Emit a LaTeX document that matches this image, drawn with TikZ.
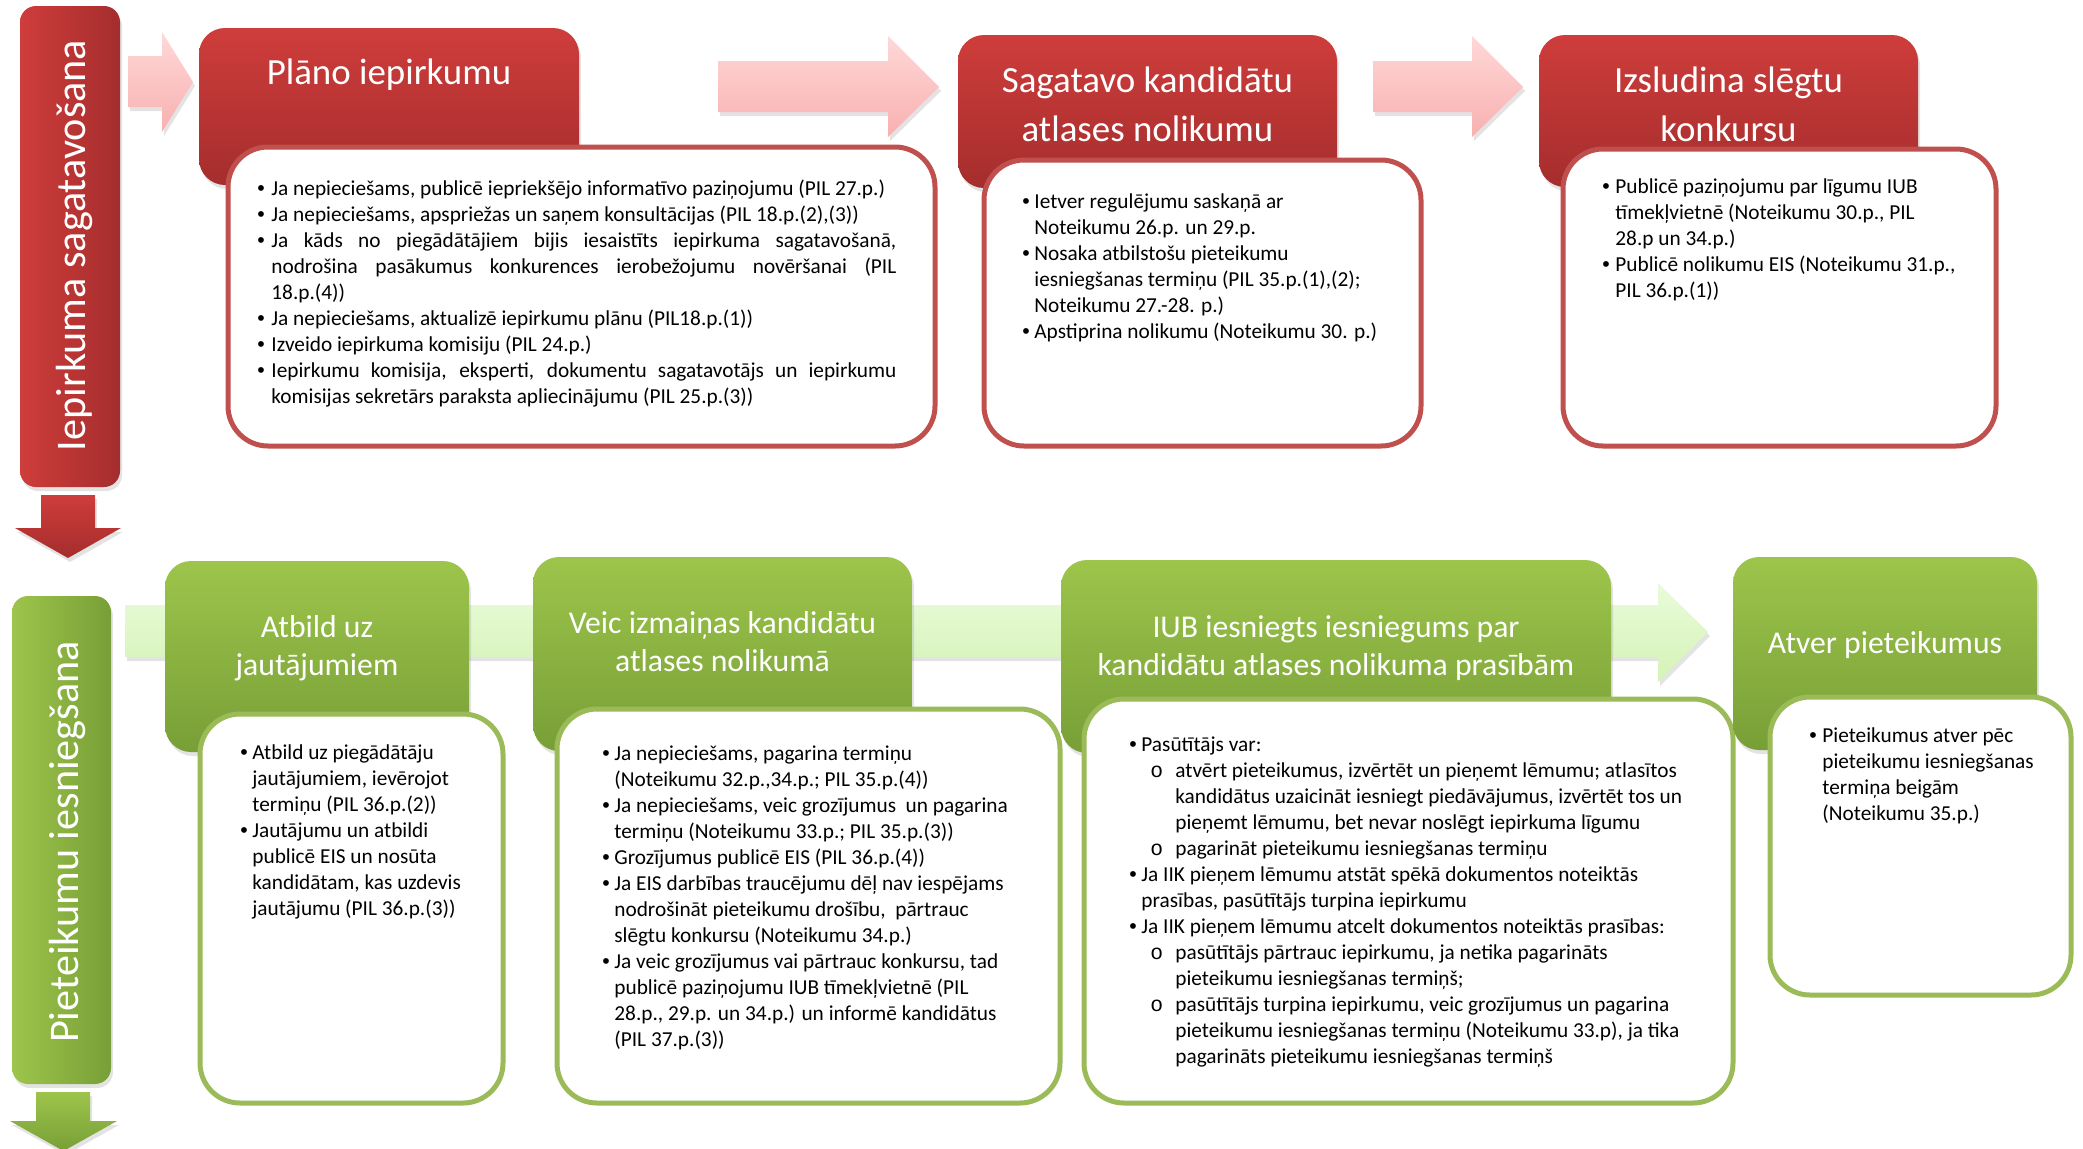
\documentclass[tikz,border=0pt]{standalone}
\usepackage{fontspec}
\setmainfont{Carlito}
\newfontfamily\bulfont{Liberation Sans}
\newfontfamily\subfont{Liberation Mono}
\usetikzlibrary{fit,shadows}
\definecolor{redA}{HTML}{CE3D3B}
\definecolor{redB}{HTML}{A52D2D}
\definecolor{redBorder}{HTML}{C0504D}
\definecolor{grnA}{HTML}{9DC54B}
\definecolor{grnB}{HTML}{789F37}
\definecolor{grnBorder}{HTML}{9BBB59}
\definecolor{pinkA}{HTML}{FFD8D8}
\definecolor{pinkB}{HTML}{F8B0B0}
\definecolor{lgA}{HTML}{E9FBDA}
\definecolor{lgB}{HTML}{D5F3B6}
\newcommand\bi[2]{\par\hangindent=#1\relax\hangafter=1\noindent\makebox[#1][l]{{\bulfont •}}#2}
\newcommand\si[3]{\par\hangindent=#2\relax\hangafter=1\noindent\hspace*{#1}\makebox[\dimexpr#2-#1\relax][l]{{\subfont o}}#3}
\newcommand\bodybox[2]{\parbox[t]{#1}{\setlength\parindent{0pt}\hyphenpenalty=10000 \exhyphenpenalty=10000 \tolerance=10000 \hbadness=10000 #2}}
\tikzset{
  shad/.style={drop shadow={opacity=0.22, shadow xshift=1pt, shadow yshift=-2pt}},
  redtitle/.style={rectangle, rounded corners=13pt, top color=redA, bottom color=redB, inner sep=0pt, shad},
  grntitle/.style={rectangle, rounded corners=13pt, top color=grnA, bottom color=grnB, inner sep=0pt, shad},
  redbar/.style={rectangle, rounded corners=8pt, left color=redA, right color=redB, inner sep=0pt, shad},
  grnbar/.style={rectangle, rounded corners=8pt, left color=grnA, right color=grnB, inner sep=0pt, shad},
  redpanel/.style={rectangle, rounded corners=20pt, fill=white, draw=redBorder, line width=2.5pt, inner sep=0pt},
  grnpanel/.style={rectangle, rounded corners=20pt, fill=white, draw=grnBorder, line width=2.5pt, inner sep=0pt},
  ttop/.style={text=white, inner sep=0pt, anchor=base, font=\fontsize{18.45pt}{24.5pt}\selectfont},
  tbot/.style={text=white, inner sep=0pt, anchor=base, font=\fontsize{15.85pt}{19pt}\selectfont},
  bodytxt/.style={inner sep=0pt, anchor=base west, font=\fontsize{10.65pt}{13pt}\selectfont},
  vtxt/.style={text=white, rotate=90, anchor=base, inner sep=0pt, font=\fontsize{21.1pt}{25pt}\selectfont},
  pinkarrow/.style={top color=pinkA, bottom color=pinkB, shad},
  lgarrow/.style={top color=lgA, bottom color=lgB, shad},
  redarrow/.style={top color=redA, bottom color=redB, shad},
  grnarrow/.style={top color=grnA, bottom color=grnB, shad},
}
\begin{document}
\begin{tikzpicture}[x=0.5pt,y=-0.5pt]
\path[use as bounding box] (0,0) rectangle (2083,1148);
\clip (0,0) rectangle (2083,1148);
% ---------------- top row ----------------
\node[redbar, fit={(20,6) (120,487)}] (bar1) {};
\node[vtxt] (bar1t) at (85,245.5) {Iepirkuma sagatavošana};
\path[redarrow] (41,495) -- (95,495) -- (95,528) -- (121,528) -- (68,558) -- (15,528) -- (41,528) -- cycle;
\path[pinkarrow] (128,56) -- (162,56) -- (162,32) -- (193,82) -- (162,132) -- (162,107) -- (128,107) -- cycle;
\path[pinkarrow] (718,61) -- (888,61) -- (888,36) -- (939,87) -- (888,137) -- (888,112) -- (718,112) -- cycle;
\path[pinkarrow] (1373,61) -- (1472,61) -- (1472,36) -- (1523,87) -- (1472,137) -- (1472,112) -- (1373,112) -- cycle;

\node[redtitle, fit={(199,28) (579,185)}] (t1) {};
\node[ttop] (t1t) at (389,84) {Plāno iepirkumu};
\node[redpanel, fit={(228,147) (935,446)}] (p1) {};
\node[bodytxt] (p1t) at (257,195) {\bodybox{319.5pt}{%
\bi{7pt}{Ja nepieciešams, publicē iepriekšējo informatīvo paziņojumu (PIL 27.p.)}
\bi{7pt}{Ja nepieciešams, apspriežas un saņem konsultācijas (PIL 18.p.(2),(3))}
\bi{7pt}{Ja kāds no piegādātājiem bijis iesaistīts iepirkuma sagatavošanā,\linebreak nodrošina pasākumus konkurences ierobežojumu novēršanai (PIL\linebreak 18.p.(4))}
\bi{7pt}{Ja nepieciešams, aktualizē iepirkumu plānu (PIL18.p.(1))}
\bi{7pt}{Izveido iepirkuma komisiju (PIL 24.p.)}
\bi{7pt}{Iepirkumu komisija, eksperti, dokumentu sagatavotājs un iepirkumu\linebreak komisijas sekretārs paraksta apliecinājumu (PIL 25.p.(3))}}};

\node[redtitle, fit={(958,35) (1337,188)}] (t2) {};
\node[ttop] (t2t) at (1147.5,92) {\parbox[t]{180pt}{\centering Sagatavo kandidātu\\atlases nolikumu}};
\node[redpanel, fit={(984,160) (1421,446)}] (p2) {};
\node[bodytxt] (p2t) at (1022,208) {\bodybox{189pt}{\raggedright
\bi{6pt}{Ietver regulējumu saskaņā ar\newline Noteikumu 26.p. un 29.p.}
\bi{6pt}{Nosaka atbilstošu pieteikumu\newline iesniegšanas termiņu (PIL 35.p.(1),(2);\newline Noteikumu 27.-28. p.)}
\bi{6pt}{Apstiprina nolikumu (Noteikumu 30. p.)}}};

\node[redtitle, fit={(1539,35) (1918,187)}] (t3) {};
\node[ttop] (t3t) at (1728.5,92) {\parbox[t]{180pt}{\centering Izsludina slēgtu\\konkursu}};
\node[redpanel, fit={(1563,149) (1996,446)}] (p3) {};
\node[bodytxt] (p3t) at (1602,193) {\bodybox{189pt}{\raggedright
\bi{6.5pt}{Publicē paziņojumu par līgumu IUB\newline tīmekļvietnē (Noteikumu 30.p., PIL\newline 28.p un 34.p.)}
\bi{6.5pt}{Publicē nolikumu EIS (Noteikumu 31.p.,\newline PIL 36.p.(1))}}};

% ---------------- bottom row ----------------
\node[grnbar, fit={(12,596) (111,1084)}] (bar2) {};
\node[vtxt] (bar2t) at (78,842) {Pieteikumu iesniegšana};
\path[grnarrow] (36,1092) -- (90,1092) -- (90,1121) -- (117,1121) -- (63.5,1151) -- (10,1121) -- (36,1121) -- cycle;
\path[lgarrow] (125,605) -- (1658,605) -- (1658,583) -- (1708,632) -- (1658,682) -- (1658,657) -- (125,657) -- cycle;

\node[grntitle, fit={(165,561) (469,752)}] (t4) {};
\node[tbot] (t4t) at (317,637) {\parbox[t]{150pt}{\centering Atbild uz\\jautājumiem}};
\node[grnpanel, fit={(200,714) (503,1103)}] (p4) {};
\node[bodytxt] (p4t) at (240,759) {\bodybox{127.5pt}{\raggedright
\bi{6pt}{Atbild uz piegādātāju\newline jautājumiem, ievērojot\newline termiņu (PIL 36.p.(2))}
\bi{6pt}{Jautājumu un atbildi\newline publicē EIS un nosūta\newline kandidātam, kas uzdevis\newline jautājumu (PIL 36.p.(3))}}};

\node[grntitle, fit={(533,557) (912,751)}] (t5) {};
\node[tbot] (t5t) at (722.5,633) {\parbox[t]{185pt}{\centering Veic izmaiņas kandidātu\\atlases nolikumā}};
\node[grnpanel, fit={(557,709) (1060,1103)}] (p5) {};
\node[bodytxt] (p5t) at (602,760) {\bodybox{224pt}{\raggedright
\bi{6pt}{Ja nepieciešams, pagarina termiņu\newline (Noteikumu 32.p.,34.p.; PIL 35.p.(4))}
\bi{6pt}{Ja nepieciešams, veic grozījumus~ un pagarina\newline termiņu (Noteikumu 33.p.; PIL 35.p.(3))}
\bi{6pt}{Grozījumus publicē EIS (PIL 36.p.(4))}
\bi{6pt}{Ja EIS darbības traucējumu dēļ nav iespējams\newline nodrošināt pieteikumu drošību,~ pārtrauc\newline slēgtu konkursu (Noteikumu 34.p.)}
\bi{6pt}{Ja veic grozījumus vai pārtrauc konkursu, tad\newline publicē paziņojumu IUB tīmekļvietnē (PIL\newline 28.p., 29.p. un 34.p.) un informē kandidātus\newline (PIL 37.p.(3))}}};

\node[grntitle, fit={(1061,560) (1611,753)}] (t6) {};
\node[tbot] (t6t) at (1336,637) {\parbox[t]{270pt}{\centering IUB iesniegts iesniegums par\\kandidātu atlases nolikuma prasībām}};
\node[grnpanel, fit={(1084,699) (1733,1103)}] (p6) {};
\node[bodytxt] (p6t) at (1129,751) {\bodybox{298pt}{\raggedright
\bi{6pt}{Pasūtītājs var:}
\si{10.5pt}{23pt}{atvērt pieteikumus, izvērtēt un pieņemt lēmumu; atlasītos\newline kandidātus uzaicināt iesniegt piedāvājumus, izvērtēt tos un\newline pieņemt lēmumu, bet nevar noslēgt iepirkuma līgumu}
\si{10.5pt}{23pt}{pagarināt pieteikumu iesniegšanas termiņu}
\bi{6pt}{Ja IIK pieņem lēmumu atstāt spēkā dokumentos noteiktās\newline prasības, pasūtītājs turpina iepirkumu}
\bi{6pt}{Ja IIK pieņem lēmumu atcelt dokumentos noteiktās prasības:}
\si{10.5pt}{23pt}{pasūtītājs pārtrauc iepirkumu, ja netika pagarināts\newline pieteikumu iesniegšanas termiņš;}
\si{10.5pt}{23pt}{pasūtītājs turpina iepirkumu, veic grozījumus un pagarina\newline pieteikumu iesniegšanas termiņu (Noteikumu 33.p), ja tika\newline pagarināts pieteikumu iesniegšanas termiņš}}};

\node[grntitle, fit={(1733,557) (2037,750)}] (t7) {};
\node[tbot] (t7t) at (1885,653) {Atver pieteikumus};
\node[grnpanel, fit={(1770,697) (2071,995)}] (p7) {};
\node[bodytxt] (p7t) at (1809,742) {\bodybox{128pt}{\raggedright
\bi{6.5pt}{Pieteikumus atver pēc\newline pieteikumu iesniegšanas\newline termiņa beigām\newline (Noteikumu 35.p.)}}};
\end{tikzpicture}
\end{document}
